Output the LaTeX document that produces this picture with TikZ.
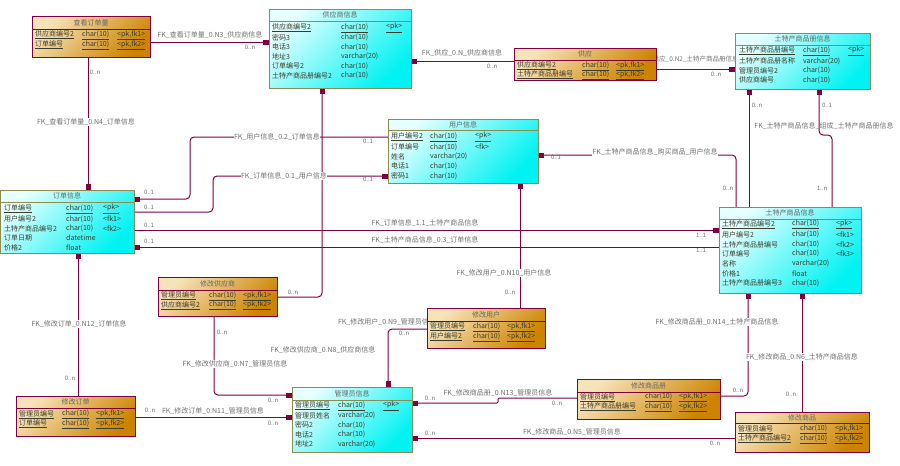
\documentclass[tikz,border=0pt]{standalone}
\usepackage{fontspec}
\setmainfont{Noto Sans CJK SC}
\usetikzlibrary{arrows.meta}
\definecolor{lnc}{HTML}{800040}
\definecolor{olv}{HTML}{8C8C50}
\definecolor{cyl}{HTML}{E6FFFF}
\definecolor{cyd}{HTML}{00F2F2}
\definecolor{orl}{HTML}{F7E3BA}
\definecolor{ord}{HTML}{CC8400}
\definecolor{txt}{HTML}{3C3C2C}
\definecolor{lbl}{HTML}{707070}
\newcounter{cellno}
\newcommand{\uln}[1]{\underline{#1}}
\newcommand{\erow}[7]{%
  \stepcounter{cellno}%
  \node[cell] (c\arabic{cellno}a) at (#1,#4) {#5};
  \node[cell] (c\arabic{cellno}b) at (#2,#4) {#6};
  \node[cell] (c\arabic{cellno}c) at (#3,#4) {#7};}
\newcommand{\tframe}[9]{%
  \node[#2, minimum width=#5pt, minimum height=#6pt] (#1) at (#3,#4) {};
  \draw[#2line] (#1.west |- 0,#7) -- (#1.east |- 0,#7);
  \node[ttl] (#1t) at (#1.north |- 0,#8) {#9};}
\begin{document}
\begin{tikzpicture}[x=1pt,y=-1pt,
  cell/.style={anchor=west,inner sep=0pt,font=\fontsize{7}{8}\selectfont,text=txt},
  ttl/.style={inner sep=0pt,font=\fontsize{7}{8}\selectfont,text=black!60},
  cyanbox/.style={draw=olv,line width=0.9pt,top color=cyl,bottom color=cyd,shading angle=45,anchor=north west,inner sep=0pt,outer sep=0pt},
  orangebox/.style={draw=lnc,line width=0.9pt,top color=orl,bottom color=ord,shading angle=45,anchor=north west,inner sep=0pt,outer sep=0pt},
  cyanboxline/.style={draw=olv,line width=0.9pt},
  orangeboxline/.style={draw=lnc,line width=0.9pt},
  anchorbox/.style={anchor=north west,inner sep=0pt,outer sep=0pt},
  fk/.style={draw=lnc,line width=1pt,rounded corners=4pt},
  fka/.style={fk,-{Rectangle[length=6pt,width=5pt]}},
  rl/.style={font=\fontsize{7}{8}\selectfont,text=lbl,fill=white,inner sep=0.5pt},
  rln/.style={font=\fontsize{7}{8}\selectfont,text=lbl,inner sep=0.5pt},
  mt/.style={font=\fontsize{6}{7}\selectfont,text=lbl,inner sep=0pt}]
\useasboundingbox (0,0) rectangle (900,466);
% ---------- table outlines used as connector anchors (frames drawn on top later) ----------
\node[anchorbox,minimum width=118pt,minimum height=41pt] (ck) at (32,16) {};
\node[anchorbox,minimum width=142pt,minimum height=79pt] (gys) at (269,9) {};
\node[anchorbox,minimum width=142pt,minimum height=32pt] (gy) at (514,48) {};
\node[anchorbox,minimum width=135pt,minimum height=56pt] (tcml) at (735,33) {};
\node[anchorbox,minimum width=150pt,minimum height=64pt] (yh) at (388,119) {};
\node[anchorbox,minimum width=134pt,minimum height=63pt] (dd) at (0,190) {};
\node[anchorbox,minimum width=142pt,minimum height=86pt] (tc) at (719,207) {};
\node[anchorbox,minimum width=119pt,minimum height=39pt] (xggys) at (158,277) {};
\node[anchorbox,minimum width=118pt,minimum height=40pt] (xgyh) at (427,308) {};
\node[anchorbox,minimum width=120pt,minimum height=65pt] (gly) at (292,387) {};
\node[anchorbox,minimum width=119pt,minimum height=40pt] (xgdd) at (16,396) {};
\node[anchorbox,minimum width=143pt,minimum height=40pt] (xgsc) at (577,379) {};
\node[anchorbox,minimum width=134pt,minimum height=40pt] (xgsp) at (735,412) {};
% ---------- connectors ----------
\draw[fka] (ck.east |- 0,42) -- (gys.west |- 0,42);
\draw[fka] (gy.west |- 0,61) -- (gys.east |- 0,61);
\draw[fka] (gy.east |- 0,69) -- (tcml.west |- 0,69);
\draw[fka] (ck.south -| 88,0) -- (dd.north -| 88,0);
\draw[fka] (yh.west |- 0,137) -- (190,137) -- (190,199) -- (dd.east |- 0,199);
\draw[fka] (dd.east |- 0,212) -- (213,212) -- (213,176) -- (yh.west |- 0,176);
\draw[fka] (dd.east |- 0,230) -- (tc.west |- 0,230);
\draw[fka] (tc.west |- 0,247) -- (dd.east |- 0,247);
\draw[fka] (tc.north -| 736,0) -- (736,155) -- (yh.east |- 0,155);
\draw[fka] (tc.north -| 749,0) -- (tcml.south -| 749,0);
\draw[fka] (tc.north -| 832,0) -- (832,135) -- (819,135) -- (tcml.south -| 819,0);
\draw[fka] (xgyh.north -| 520,0) -- (yh.south -| 520,0);
\draw[fka] (xgyh.west |- 0,329) -- (388,329) -- (gly.north -| 388,0);
\draw[fka] (xggys.east |- 0,297) -- (322,297) -- (gys.south -| 322,0);
\draw[fka] (xggys.south -| 214,0) -- (214,395) -- (gly.west |- 0,395);
\draw[fka] (xgdd.east |- 0,417) -- (gly.west |- 0,417);
\draw[fka] (xgdd.north -| 78,0) -- (dd.south -| 78,0);
\draw[fka,rounded corners=1pt] (xgsc.west |- 0,398) -- (498,398) -- (498,403) -- (gly.east |- 0,403);
\draw[fka] (xgsc.east |- 0,396) -- (748,396) -- (tc.south -| 748,0);
\draw[fka] (xgsp.north -| 802,0) -- (tc.south -| 802,0);
\draw[fka] (xgsp.west |- 0,438) -- (gly.east |- 0,438);
% ---------- relation labels ----------
\node[rl] (l1) at (210,35) {FK\_查看订单量\_0.N3\_供应商信息};
\node[rl] (l2) at (462,53) {FK\_供应\_0.N\_供应商信息};
\node[rln,font=\fontsize{6.5}{7.5}\selectfont] (l3) at (690,59) {FK\_供应\_0.N2\_土特产商品册信息};
\node[rl] (l4) at (86,122) {FK\_查看订单量\_0.N4\_订单信息};
\node[rl] (l5) at (277,137) {FK\_用户信息\_0.2\_订单信息};
\node[rl] (l6) at (284,176) {FK\_订单信息\_0.1\_用户信息};
\node[rl] (l7) at (425,223) {FK\_订单信息\_1.1\_土特产商品信息};
\node[rl] (l8) at (425,240) {FK\_土特产商品信息\_0.3\_订单信息};
\node[rl] (l9) at (655,152) {FK\_土特产商品信息\_购买商品\_用户信息};
\node[rln] (l10) at (824,126) {FK\_土特产商品信息\_组成\_土特产商品册信息};
\node[rl] (l11) at (504,273) {FK\_修改用户\_0.N10\_用户信息};
\node[rl] (l12) at (387,322) {FK\_修改用户\_0.N9\_管理员信息};
\node[rl] (l13) at (323,350) {FK\_修改供应商\_0.N8\_供应商信息};
\node[rl] (l14) at (235,364) {FK\_修改供应商\_0.N7\_管理员信息};
\node[rl] (l15) at (213,411) {FK\_修改订单\_0.N11\_管理员信息};
\node[rl] (l16) at (79,324) {FK\_修改订单\_0.N12\_订单信息};
\node[rl] (l17) at (498,393) {FK\_修改商品册\_0.N13\_管理员信息};
\node[rl] (l18) at (717,322) {FK\_修改商品册\_0.N14\_土特产商品信息};
\node[rl] (l19) at (802,357) {FK\_修改商品\_0.N6\_土特产商品信息};
\node[rl] (l20) at (572,432) {FK\_修改商品\_0.N5\_管理员信息};
% ---------- multiplicities ----------
\node[mt] (m1) at (250,47) {0..n};
\node[mt] (m2) at (492,66) {0..n};
\node[mt] (m3) at (716,74) {0..n};
\node[mt] (m4) at (95,72) {0..n};
\node[mt] (m5) at (368,141) {0..1};
\node[mt] (m6) at (149,192) {0..1};
\node[mt] (m7) at (368,179) {0..1};
\node[mt] (m8) at (149,207) {0..1};
\node[mt] (m9) at (149,225) {0..1};
\node[mt] (m10) at (701,235) {1..1};
\node[mt] (m11) at (149,241) {0..1};
\node[mt] (m12) at (701,250) {1..1};
\node[mt] (m13) at (556,157) {0..1};
\node[mt] (m14) at (728,188) {0..n};
\node[mt] (m15) at (757,105) {0..n};
\node[mt] (m16) at (827,105) {0..1};
\node[mt] (m17) at (822,188) {1..n};
\node[mt] (m18) at (510,292) {0..n};
\node[mt] (m19) at (404,333) {0..n};
\node[mt] (m20) at (293,292) {0..n};
\node[mt] (m21) at (222,332) {0..n};
\node[mt] (m22) at (273,400) {0..n};
\node[mt] (m23) at (150,410) {0..n};
\node[mt] (m24) at (273,423) {0..n};
\node[mt] (m25) at (70,378) {0..n};
\node[mt] (m26) at (430,398) {0..n};
\node[mt] (m27) at (557,403) {0..n};
\node[mt] (m28) at (738,390) {0..n};
\node[mt] (m29) at (791,394) {0..n};
\node[mt] (m30) at (430,433) {0..n};
\node[mt] (m31) at (715,443) {0..n};
% ---------- tables ----------
\tframe{tck}{orangebox}{32}{16}{118}{41}{29}{23}{查看订单量}
\erow{35}{82}{117}{35}{\uln{供应商编号2}}{\uln{char(10)}}{\uln{<pk,fk1>}}
\erow{35}{82}{117}{45}{\uln{订单编号}}{\uln{char(10)}}{\uln{<pk,fk2>}}

\tframe{tgys}{cyanbox}{269}{9}{142}{79}{21}{15}{供应商信息}
\erow{272}{341}{386}{28}{\uln{供应商编号2}}{\uln{char(10)}}{\uln{<pk>}}
\erow{272}{341}{386}{37.5}{密码3}{char(10)}{}
\erow{272}{341}{386}{47}{电话3}{char(10)}{}
\erow{272}{341}{386}{56.5}{地址3}{varchar(20)}{}
\erow{272}{341}{386}{66}{订单编号2}{char(10)}{}
\erow{272}{341}{386}{75.5}{土特产商品册编号2}{char(10)}{}

\tframe{tgy}{orangebox}{514}{48}{142}{32}{60}{54}{供应}
\erow{517}{582}{616}{66}{\uln{供应商编号2}}{\uln{char(10)}}{\uln{<pk,fk1>}}
\erow{517}{582}{616}{75}{\uln{土特产商品册编号}}{\uln{char(10)}}{\uln{<pk,fk2>}}

\tframe{ttcml}{cyanbox}{735}{33}{135}{56}{45}{39}{土特产商品册信息}
\erow{739}{803}{848}{51}{\uln{土特产商品册编号}}{\uln{char(10)}}{\uln{<pk>}}
\erow{739}{803}{848}{61}{土特产商品册名称}{varchar(20)}{}
\erow{739}{803}{848}{70.5}{管理员编号2}{char(10)}{}
\erow{739}{803}{848}{80}{供应商编号}{char(10)}{}

\tframe{tyh}{cyanbox}{388}{119}{150}{64}{130}{124.5}{用户信息}
\erow{391}{430}{475}{137}{\uln{用户编号2}}{\uln{char(10)}}{\uln{<pk>}}
\erow{391}{430}{475}{147}{订单编号}{char(10)}{<fk>}
\erow{391}{430}{475}{156.5}{姓名}{varchar(20)}{}
\erow{391}{430}{475}{166}{电话1}{char(10)}{}
\erow{391}{430}{475}{176}{密码1}{char(10)}{}

\tframe{tdd}{cyanbox}{0}{190}{134}{63}{202}{196}{订单信息}
\erow{4}{66}{103}{209}{\uln{订单编号}}{\uln{char(10)}}{\uln{<pk>}}
\erow{4}{66}{103}{219}{用户编号2}{char(10)}{<fk1>}
\erow{4}{66}{103}{228.5}{土特产商品编号2}{char(10)}{<fk2>}
\erow{4}{66}{103}{238}{订单日期}{datetime}{}
\erow{4}{66}{103}{248}{价格2}{float}{}

\tframe{ttc}{cyanbox}{719}{207}{142}{86}{219}{213}{土特产商品信息}
\erow{722}{792}{836}{224.5}{\uln{土特产商品编号2}}{\uln{char(10)}}{\uln{<pk>}}
\erow{722}{792}{836}{234.5}{用户编号2}{char(10)}{<fk1>}
\erow{722}{792}{836}{244.5}{土特产商品册编号}{char(10)}{<fk2>}
\erow{722}{792}{836}{253.5}{订单编号}{char(10)}{<fk3>}
\erow{722}{792}{836}{263.5}{名称}{varchar(20)}{}
\erow{722}{792}{836}{273.5}{价格1}{float}{}
\erow{722}{792}{836}{283}{土特产商品册编号3}{char(10)}{}

\tframe{txggys}{orangebox}{158}{277}{119}{39}{290}{283.5}{修改供应商}
\erow{161}{209}{243}{296}{\uln{管理员编号}}{\uln{char(10)}}{\uln{<pk,fk1>}}
\erow{161}{209}{243}{305.5}{\uln{供应商编号2}}{\uln{char(10)}}{\uln{<pk,fk2>}}

\tframe{txgyh}{orangebox}{427}{308}{118}{40}{321}{314.5}{修改用户}
\erow{430}{473}{507}{327}{\uln{管理员编号}}{\uln{char(10)}}{\uln{<pk,fk1>}}
\erow{430}{473}{507}{337}{\uln{用户编号2}}{\uln{char(10)}}{\uln{<pk,fk2>}}

\tframe{tgly}{cyanbox}{292}{387}{120}{65}{400}{393.5}{管理员信息}
\erow{295}{338}{383}{406}{\uln{管理员编号}}{\uln{char(10)}}{\uln{<pk>}}
\erow{295}{338}{383}{415.5}{管理员姓名}{varchar(20)}{}
\erow{295}{338}{383}{425}{密码2}{char(10)}{}
\erow{295}{338}{383}{434.5}{电话2}{char(10)}{}
\erow{295}{338}{383}{444}{地址2}{varchar(20)}{}

\tframe{txgdd}{orangebox}{16}{396}{119}{40}{408}{402}{修改订单}
\erow{19}{62}{96}{414.5}{\uln{管理员编号}}{\uln{char(10)}}{\uln{<pk,fk1>}}
\erow{19}{62}{96}{424}{\uln{订单编号}}{\uln{char(10)}}{\uln{<pk,fk2>}}

\tframe{txgsc}{orangebox}{577}{379}{143}{40}{392}{385.5}{修改商品册}
\erow{580}{645}{679}{397.5}{\uln{管理员编号}}{\uln{char(10)}}{\uln{<pk,fk1>}}
\erow{580}{645}{679}{407}{\uln{土特产商品册编号}}{\uln{char(10)}}{\uln{<pk,fk2>}}

\tframe{txgsp}{orangebox}{735}{412}{134}{40}{423}{417.5}{修改商品}
\erow{738}{800}{835}{429.5}{\uln{管理员编号}}{\uln{char(10)}}{\uln{<pk,fk1>}}
\erow{738}{800}{835}{439}{\uln{土特产商品编号2}}{\uln{char(10)}}{\uln{<pk,fk2>}}
\end{tikzpicture}
\end{document}
